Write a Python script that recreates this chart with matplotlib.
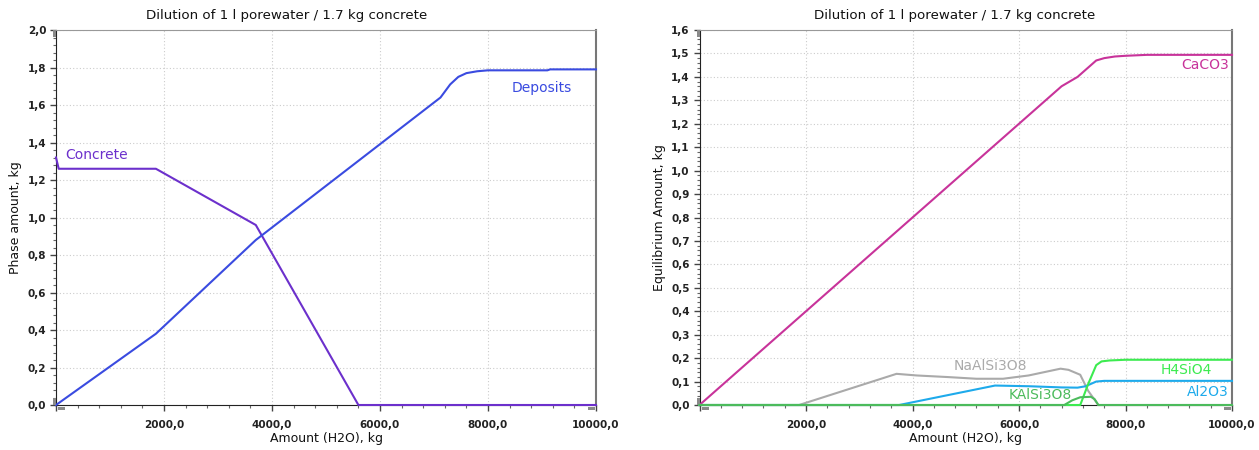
import matplotlib
matplotlib.use("Agg")
import matplotlib.pyplot as plt
from matplotlib.patches import Rectangle
from matplotlib.ticker import MultipleLocator, FuncFormatter

# ---- data: phase amounts (kg) vs added water (kg) ----
concrete_x = [0, 50, 1850, 3700, 5600, 10000]
concrete_y = [1.32, 1.26, 1.26, 0.96, 0.0, 0.0]

deposits_x = [0, 1850, 3700, 7120, 7300, 7450, 7600, 7800, 8000, 9100, 9150, 10000]
deposits_y = [0.0, 0.38, 0.88, 1.64, 1.71, 1.75, 1.77, 1.78, 1.785, 1.785, 1.79, 1.79]

caco3_x = [0, 6800, 7100, 7300, 7450, 7600, 7800, 8000, 8400, 10000]
caco3_y = [0.0, 1.36, 1.40, 1.44, 1.47, 1.48, 1.487, 1.49, 1.494, 1.494]

naalsi3o8_x = [0, 1870, 3700, 4080, 4680, 5200, 5700, 6180, 6780, 6930, 7150, 7300, 7490, 10000]
naalsi3o8_y = [0.0, 0.0, 0.133, 0.126, 0.119, 0.112, 0.112, 0.126, 0.155, 0.150, 0.129, 0.06, 0.0, 0.0]

al2o3_x = [0, 3750, 5550, 6200, 6800, 7100, 7250, 7450, 7600, 10000]
al2o3_y = [0.0, 0.0, 0.083, 0.080, 0.075, 0.074, 0.080, 0.100, 0.103, 0.103]

kalsi3o8_x = [0, 6850, 7000, 7150, 7350, 7420, 7490, 10000]
kalsi3o8_y = [0.0, 0.0, 0.02, 0.033, 0.035, 0.025, 0.0, 0.0]

h4sio4_x = [0, 7150, 7300, 7450, 7550, 7700, 8000, 10000]
h4sio4_y = [0.0, 0.0, 0.09, 0.17, 0.186, 0.19, 0.193, 0.193]

title = "Dilution of 1 l porewater / 1.7 kg concrete"
xlabel = "Amount (H2O), kg"

# ---- colours ----
c_concrete = "#6c30cc"
c_deposits = "#3a4be0"
c_caco3 = "#c8339a"
c_na = "#aaaaaa"
c_al = "#1eaaeb"
c_k = "#4cbb5c"
c_h4 = "#3ceb50"

plt.rcParams["font.family"] = ["DejaVu Sans"]

W, H = 1259, 450
fig = plt.figure(figsize=(W / 100, H / 100), dpi=100)
ax1 = fig.add_axes([56 / W, 0.10, 540 / W, 0.8333])
ax2 = fig.add_axes([699.5 / W, 0.10, 532.5 / W, 0.8333])


def comma(v, _pos):
    return f"{v:.1f}".replace(".", ",")


def xfmt(v, _pos):
    if abs(v) < 1e-6:
        return ""
    return f"{v:.1f}".replace(".", ",")


def scroll_marks(ax):
    """Small grey zoom handles at the axis ends."""
    bb = ax.get_position()
    pw, ph = bb.width * W, bb.height * H
    kw = dict(transform=ax.transAxes, clip_on=False, color="#8a8a8a", lw=0, zorder=6)
    ax.add_artist(Rectangle((-3 / pw, 1 - 7 / ph), 3 / pw, 7 / ph, **kw))
    ax.add_artist(Rectangle((-3 / pw, 0), 3 / pw, 7 / ph, **kw))
    ax.add_artist(Rectangle((2 / pw, -5 / ph), 7 / pw, 3 / ph, **kw))
    ax.add_artist(Rectangle((1 - 8 / pw, -5 / ph), 7 / pw, 3 / ph, **kw))


def style(ax, ymax, ymajor, yminor, title_x):
    ax.set_xlim(0, 10000)
    ax.set_ylim(0, ymax)
    ax.xaxis.set_major_locator(MultipleLocator(2000))
    ax.xaxis.set_minor_locator(MultipleLocator(400))
    ax.yaxis.set_major_locator(MultipleLocator(ymajor))
    ax.yaxis.set_minor_locator(MultipleLocator(yminor))
    ax.xaxis.set_major_formatter(FuncFormatter(xfmt))
    ax.yaxis.set_major_formatter(FuncFormatter(comma))
    ax.tick_params(axis="both", which="major", direction="out", length=4,
                   width=1, color="#444444", labelsize=7.5, labelcolor="#222222")
    ax.tick_params(axis="both", which="minor", direction="out", length=2.5,
                   width=0.8, color="#666666")
    ax.tick_params(axis="x", which="major", pad=7)
    ax.tick_params(axis="y", which="major", pad=3)
    for lab in ax.get_xticklabels() + ax.get_yticklabels():
        lab.set_fontweight("bold")
    ax.grid(True, which="major", linestyle=(0, (1, 2)), color="#cccccc", linewidth=0.8)
    ax.set_axisbelow(True)
    ax.spines["left"].set_color("#222222")
    ax.spines["bottom"].set_color("#222222")
    ax.spines["top"].set_color("#999999")
    ax.spines["right"].set_color("#777777")
    ax.spines["right"].set_linewidth(1.5)
    ax.text(title_x, 1.04, title, transform=ax.transAxes, fontsize=9.6,
            color="#111111", ha="center", va="center")
    ax.set_xlabel(xlabel, fontsize=9, color="#111111", labelpad=1)
    scroll_marks(ax)


style(ax1, 2.0, 0.2, 0.04, 0.428)
style(ax2, 1.6, 0.1, 0.02, 0.48)

# ---- left panel: phase amounts ----
lw = 1.5
ax1.plot(concrete_x, concrete_y, color=c_concrete, lw=lw, clip_on=False, zorder=3)
ax1.plot(deposits_x, deposits_y, color=c_deposits, lw=lw, clip_on=False, zorder=3)
ax1.set_ylabel("Phase amount, kg", fontsize=9, color="#111111", labelpad=4)
ax1.text(170, 1.335, "Concrete", color=c_concrete, fontsize=10, ha="left", va="center")
ax1.text(8440, 1.69, "Deposits", color=c_deposits, fontsize=10, ha="left", va="center")

# ---- right panel: equilibrium amounts ----
ax2.plot(caco3_x, caco3_y, color=c_caco3, lw=lw, clip_on=False, zorder=3)
ax2.plot(naalsi3o8_x, naalsi3o8_y, color=c_na, lw=lw, clip_on=False, zorder=3)
ax2.plot(al2o3_x, al2o3_y, color=c_al, lw=lw, clip_on=False, zorder=4)
ax2.plot(h4sio4_x, h4sio4_y, color=c_h4, lw=lw, clip_on=False, zorder=5)
ax2.plot(kalsi3o8_x, kalsi3o8_y, color=c_k, lw=lw, clip_on=False, zorder=6)
ax2.set_ylabel("Equilibrium Amount, kg", fontsize=9, color="#111111", labelpad=4)
ax2.text(9940, 1.45, "CaCO3", color=c_caco3, fontsize=10, ha="right", va="center")
ax2.text(5470, 0.168, "NaAlSi3O8", color=c_na, fontsize=10, ha="center", va="center")
ax2.text(6400, 0.043, "KAlSi3O8", color=c_k, fontsize=10, ha="center", va="center")
ax2.text(9140, 0.15, "H4SiO4", color=c_h4, fontsize=10, ha="center", va="center")
ax2.text(9940, 0.057, "Al2O3", color=c_al, fontsize=10, ha="right", va="center")

fig.savefig("out.png", dpi=100, facecolor="white")
